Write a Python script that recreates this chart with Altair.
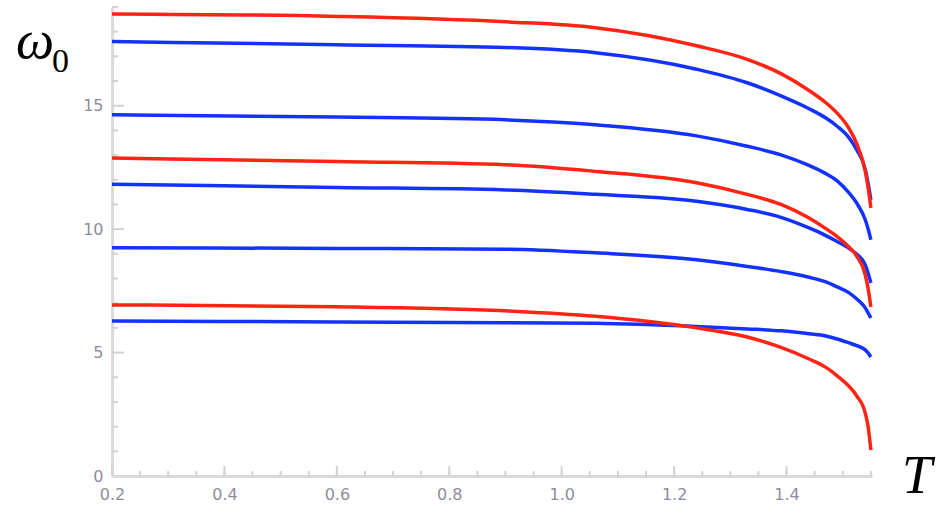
import altair as alt
import pandas as pd

# ---- data ----
T = [0.2, 0.6, 0.9, 1.06, 1.24, 1.33, 1.39, 1.44, 1.47, 1.49, 1.51, 1.525, 1.54, 1.545, 1.55]

red_1 = [18.72, 18.62, 18.40, 18.16, 17.43, 16.88, 16.30, 15.62, 15.12, 14.70, 14.12, 13.45, 12.35, 11.70, 10.86]
red_2 = [12.88, 12.74, 12.61, 12.34, 11.88, 11.41, 11.00, 10.45, 10.02, 9.70, 9.30, 8.90, 8.15, 7.60, 6.85]
red_3 = [6.93, 6.86, 6.69, 6.47, 6.00, 5.63, 5.21, 4.74, 4.40, 4.06, 3.66, 3.24, 2.55, 2.02, 1.05]

blue_1 = [17.60, 17.47, 17.36, 17.15, 16.48, 15.93, 15.40, 14.88, 14.50, 14.17, 13.74, 13.21, 12.42, 11.86, 11.19]
blue_2 = [14.63, 14.54, 14.43, 14.23, 13.78, 13.36, 13.01, 12.58, 12.25, 11.96, 11.50, 11.05, 10.38, 10.02, 9.57]
blue_3 = [11.82, 11.69, 11.59, 11.41, 11.13, 10.80, 10.48, 10.05, 9.74, 9.50, 9.24, 8.98, 8.55, 8.22, 7.82]
blue_4 = [9.25, 9.22, 9.19, 9.04, 8.76, 8.49, 8.28, 8.05, 7.86, 7.66, 7.44, 7.17, 6.81, 6.61, 6.40]
blue_5 = [6.28, 6.24, 6.21, 6.19, 6.06, 5.96, 5.88, 5.76, 5.67, 5.55, 5.40, 5.28, 5.11, 4.99, 4.82]

x_labels = [0.2, 0.4, 0.6, 0.8, 1.0, 1.2, 1.4]
x_minor = [round(0.2 + 0.05 * i, 2) for i in range(1, 28)]
y_labels = [0, 5, 10, 15]
y_major = [5, 10, 15]
y_minor = [v for v in range(1, 20) if v % 5 != 0]

X_DOMAIN = [0.2, 1.552]
Y_DOMAIN = [0, 19]
W, H = 760, 469

RED = "#ff2414"
BLUE = "#1432ff"
TICK_GRAY = "#d2d2d2"


def long(series, prefix):
    rows = []
    for i, s in enumerate(series):
        for t, w in zip(T, s):
            rows.append({"T": t, "w": w, "curve": f"{prefix}{i}"})
    return pd.DataFrame(rows)


blue_df = long([blue_1, blue_2, blue_3, blue_4, blue_5], "b")
red_df = long([red_1, red_2, red_3], "r")

xs = alt.Scale(domain=X_DOMAIN, nice=False, zero=False)
ys = alt.Scale(domain=Y_DOMAIN, nice=False, zero=False)

x_axis = alt.Axis(
    values=x_labels, format=".1f", ticks=False, grid=False,
    domainColor="#dadada", domainWidth=3,
    labelFont="DejaVu Sans", labelFontSize=16, labelColor="#8e8c9c",
    labelPadding=10, labelBaseline="top", labelFlush=False, title=None,
)
y_axis = alt.Axis(
    values=y_labels, format="d", ticks=False, grid=False,
    domainColor="#dadada", domainWidth=3,
    labelFont="DejaVu Sans", labelFontSize=16, labelColor="#8e8c9c",
    labelPadding=9, labelBaseline="middle", labelFlush=False, title=None,
)

blue_lines = alt.Chart(blue_df).mark_line(
    color=BLUE, strokeWidth=3.5, interpolate="monotone"
).encode(
    x=alt.X("T:Q", scale=xs, axis=x_axis),
    y=alt.Y("w:Q", scale=ys, axis=y_axis),
    detail="curve:N",
)

red_lines = alt.Chart(red_df).mark_line(
    color=RED, strokeWidth=3.5, interpolate="monotone"
).encode(
    x=alt.X("T:Q", scale=xs, axis=x_axis),
    y=alt.Y("w:Q", scale=ys, axis=y_axis),
    detail="curve:N",
)

# inward tick marks (Mathematica style)
x_major_ticks = alt.Chart(pd.DataFrame({"v": x_labels})).mark_rule(
    color=TICK_GRAY, strokeWidth=2
).encode(x=alt.X("v:Q", scale=xs, axis=x_axis), y=alt.value(H), y2=alt.value(H - 10))

x_minor_ticks = alt.Chart(pd.DataFrame({"v": x_minor})).mark_rule(
    color=TICK_GRAY, strokeWidth=2
).encode(x=alt.X("v:Q", scale=xs, axis=x_axis), y=alt.value(H), y2=alt.value(H - 5))

y_major_ticks = alt.Chart(pd.DataFrame({"v": y_major})).mark_rule(
    color=TICK_GRAY, strokeWidth=2
).encode(y=alt.Y("v:Q", scale=ys, axis=y_axis), x=alt.value(0), x2=alt.value(12))

y_minor_ticks = alt.Chart(pd.DataFrame({"v": y_minor})).mark_rule(
    color=TICK_GRAY, strokeWidth=2
).encode(y=alt.Y("v:Q", scale=ys, axis=y_axis), x=alt.value(0), x2=alt.value(6))

# axis titles
omega = alt.Chart(pd.DataFrame({"t": ["ω"]})).mark_text(
    font="Liberation Serif", fontStyle="italic", fontSize=54,
    align="left", baseline="alphabetic", color="black",
).encode(text="t:N", x=alt.value(-96), y=alt.value(51))

omega_sub = alt.Chart(pd.DataFrame({"t": ["0"]})).mark_text(
    font="Liberation Serif", fontSize=34,
    align="left", baseline="alphabetic", color="black",
).encode(text="t:N", x=alt.value(-60), y=alt.value(65))

t_title = alt.Chart(pd.DataFrame({"t": ["T"]})).mark_text(
    font="Liberation Serif", fontStyle="italic", fontSize=54,
    align="left", baseline="alphabetic", color="black",
).encode(text="t:N", x=alt.value(790), y=alt.value(486))

chart = alt.layer(
    x_minor_ticks, x_major_ticks, y_minor_ticks, y_major_ticks,
    blue_lines, red_lines, omega, omega_sub, t_title,
).properties(
    width=W, height=H,
    padding={"left": 112, "top": 7, "right": 64, "bottom": 37},
    autosize=alt.AutoSizeParams(type="none"),
    background="white",
).configure_view(stroke=None)

chart.save("out.html", embed_options={"renderer": "svg", "actions": False})
